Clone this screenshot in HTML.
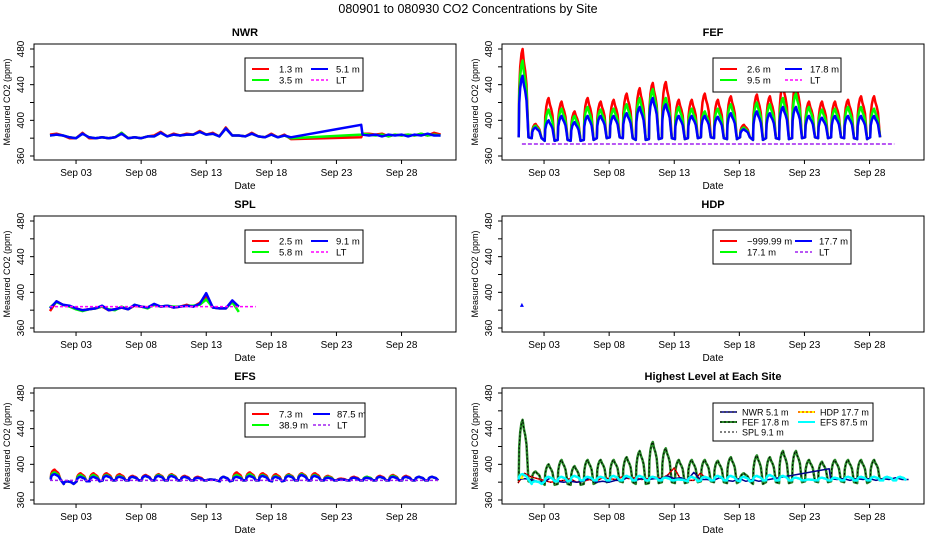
<!DOCTYPE html>
<html><head><meta charset="utf-8"><style>
body{margin:0;background:#fff;}
svg{display:block;font-family:"Liberation Sans",sans-serif;}
</style></head><body>
<svg id="chart" width="936" height="540" viewBox="0 0 936 540"></svg>
<script>
// ---- data (days since Sep 01) ----
const dateTicks=["Sep 03","Sep 08","Sep 13","Sep 18","Sep 23","Sep 28"];
const dateTickDays=[2,7,12,17,22,27];
const yTicks=[360,380,400,420,440,460,480];
const yLabels=["360","","400","","440","","480"];
const nwrTimes=[0,0.5,1,1.5,2,2.5,3,3.5,4,4.5,5,5.5,6,6.5,7,7.5,8,8.5,9,9.5,10,10.5,11,11.5,12,12.5,13,13.5,14,14.5,15,15.5,16,16.5,17,17.5,18,18.5,23.9,24,24.5,25,25.5,26,26.5,27,27.5,28,28.5,29,29.5,30];
const nwrBlue=[383,384,383,381,380,385,381,380,381,380,381,385,380,381,380,382,382,386,382,384,383,384,384,387,384,385,382,391,383,383,382,385,382,381,384,381,383,381,395,384,383,384,382,384,383,384,382,384,383,385,383,383];
const nwrRed=[384,385,383,380,380,386,380,380,381,380,381,386,380,381,380,382,383,387,382,385,383,385,384,388,384,386,382,392,383,383,382,386,382,381,385,381,384,379,381,385,385,384,385,382,384,383,384,383,385,383,386,384];
const nwrGreen=[383,384,383,381,380,385,381,380,381,380,381,386,380,381,380,382,382,386,382,384,383,384,384,387,384,385,382,391,383,383,382,385,382,381,384,381,383,380,384,385,384,383,384,382,384,383,384,383,385,383,384,383];
const splTimes=[0,0.5,1,1.5,2,2.5,3,3.5,4,4.5,5,5.5,6,6.5,7,7.5,8,8.5,9,9.5,10,10.5,11,11.5,12,12.5,13,13.5,14,14.5];
const splBlue=[382,390,386,385,382,380,381,382,385,380,381,383,381,386,384,383,387,384,385,383,384,385,384,387,399,383,382,382,391,384];
const splRed=[379,390,386,384,382,380,381,382,384,380,381,383,381,385,384,383,386,384,385,383,384,386,384,388,396,383,382,382,390,384];
const splGreen=[383,389,386,384,381,379,381,382,384,381,380,384,381,386,384,382,386,384,385,384,384,385,385,386,392,383,382,382,389,378];
const splLtTimes=[0,15.8];
const splLt=[384,384];
const hdpTimes=[0.3];
const hdpBlue=[386];
const fefRedPeak=[480,396,425,421,410,425,421,423,430,436,442,443,423,423,430,423,427,395,429,427,440,442,421,421,421,423,427,427];
const fefGreenPeak=[467,394,412,413,405,415,412,413,418,425,435,425,415,413,410,413,418,392,420,418,425,430,415,412,413,415,415,413];
const fefBluePeak=[450,392,400,405,398,405,405,405,408,415,425,418,405,405,405,404,408,390,410,408,415,415,405,403,405,405,405,405];
const fefBase=[381,380,377,378,377,378,380,381,380,378,379,380,379,380,381,380,379,381,378,380,379,380,381,380,381,380,379,381];
const fefLtTimes=[0.3,28.9];
const fefLt=[373.5,373.5];
const efsRedPeak=[394,381,390,390,390,389,387,388,389,389,387,386,383,386,391,391,390,389,389,390,390,387,384,386,386,387,388,387,386,386];
const efsGreenPeak=[391,381,388,388,388,387,386,387,388,388,386,385,383,386,388,389,388,387,388,389,388,386,383,385,386,386,387,386,386,386];
const efsBluePeak=[389,381,386,386,387,386,386,387,387,387,386,385,383,386,386,387,387,386,387,388,387,385,383,385,385,386,386,386,386,386];
const efsBase=[383,378,381,381,382,382,382,382,382,382,382,382,382,381,382,382,382,381,382,382,382,382,382,382,382,382,382,382,382,382];
const efsLtTimes=[0,29.9];
const efsLt=[382,382];

const NS="http://www.w3.org/2000/svg";
const svg=document.getElementById('chart');
function el(tag,attrs,parent,text){const e=document.createElementNS(NS,tag);for(const k in attrs)e.setAttribute(k,attrs[k]);if(text!==undefined)e.textContent=text;(parent||svg).appendChild(e);return e;}

function cycle(peaks,bases){const t=[],v=[];const sh=[[0,0],[0.04,0.55],[0.12,0.8],[0.22,0.95],[0.3,1],[0.4,0.85],[0.5,0.75],[0.6,0.6],[0.68,0.3],[0.76,0]];
 peaks.forEach((p,d)=>{const b=bases[d];sh.forEach(s=>{t.push(d+0.05+s[0]);v.push(b+s[1]*(p-b));});});
 return {t:t,v:v};}

const t0=el('text',{x:468,y:13,'text-anchor':'middle','font-size':12.5},svg,"080901  to  080930 CO2 Concentrations by Site");



function panel(name,col,row,title,series,legend,legBox,lfs){
 const x0=col?502:34,x1=col?924:456,y0=44+172*row,y1=y0+116;
 const g=el('g',{});
 
 
 const X=t=>x0+16+13.02*t;
 const Y=v=>y1-4-(v-360)*107/120;
 const tt=el('text',{x:(x0+x1)/2,y:y0-8,'text-anchor':'middle','font-size':11,'font-weight':'bold'},g,title);
 
 
 const clip=el('clipPath',{id:'c'+name},g);el('rect',{x:x0,y:y0,width:x1-x0,height:y1-y0},clip);
 const sg=el('g',{'clip-path':'url(#c'+name+')'},g);
 series.forEach(s=>{
  if(s.t.length===1){const p=el('path',{d:`M${X(s.t[0])-2},${Y(s.v[0])+2}L${X(s.t[0])+2},${Y(s.v[0])+2}L${X(s.t[0])},${Y(s.v[0])-2}Z`,fill:s.c},sg);
   return;}
  const d=s.t.map((t,i)=>(i?'L':'M')+X(t).toFixed(1)+','+Y(s.v[i]).toFixed(1)).join('');
  const p=el('path',{d:d,fill:'none',stroke:s.c,'stroke-width':s.w||2.5,'stroke-dasharray':s.da||'none','stroke-linejoin':'round'},sg);
  
  
 });
 el('rect',{x:x0,y:y0,width:x1-x0,height:y1-y0,fill:'none',stroke:'#000','stroke-width':1},g);
 el('line',{x1:x0,y1:Y(360),x2:x0,y2:Y(480),stroke:'#000'},g);
 yTicks.forEach((v,i)=>{el('line',{x1:x0-4,y1:Y(v),x2:x0,y2:Y(v),stroke:'#000'},g);
  if(yLabels[i]){const l=el('text',{x:0,y:0,'text-anchor':'middle','font-size':10,transform:`translate(${x0-10},${Y(v)}) rotate(-90)`},g,yLabels[i]);
   }});
 const yt=el('text',{x:0,y:0,'text-anchor':'middle','font-size':9,transform:`translate(${x0-24},${(y0+y1)/2}) rotate(-90)`},g,"Measured CO2 (ppm)");
 
 el('line',{x1:X(2),y1:y1,x2:X(27),y2:y1,stroke:'#000'},g);
 dateTickDays.forEach((d,i)=>{el('line',{x1:X(d),y1:y1,x2:X(d),y2:y1+4,stroke:'#000'},g);
  const l=el('text',{x:X(d),y:y1+16,'text-anchor':'middle','font-size':10},g,dateTicks[i]);
  });
 const xt=el('text',{x:(x0+x1)/2,y:y1+29,'text-anchor':'middle','font-size':10},g,"Date");
 
 const lg=el('g',{},g);
 
 
 el('rect',{x:legBox[0],y:legBox[1],width:legBox[2],height:legBox[3],fill:'#fff',stroke:'#000'},lg);
 legend.forEach(e=>{
  const lx=legBox[0]+e.x,ly=legBox[1]+e.y;
  el('line',{x1:lx,y1:ly,x2:lx+17,y2:ly,stroke:e.c,'stroke-width':e.w||2,'stroke-dasharray':e.da||'none'},lg);
  if(e.c2)el('line',{x1:lx,y1:ly,x2:lx+17,y2:ly,stroke:e.c2,'stroke-width':1,'stroke-dasharray':'2,2'},lg);
  const t=el('text',{x:lx+(e.tx||27),y:ly+3.5,'font-size':lfs||10,'xml:space':'preserve'},lg,e.l);
  
 });
}
function leg4(a,b,c,d,c2x){const x2=c2x||66;return [{x:7,y:11,c:'#f00',l:a},{x:x2,y:11,c:'#00f',l:b,tx:25},{x:7,y:22,c:'#0f0',l:c},{x:x2,y:22,c:'#f0f',l:d,da:'3,2',w:1.5,tx:25}];}

panel('nwr',0,0,'NWR',[
 {n:'nwr-1.3m-line',t:nwrTimes,v:nwrRed,c:'#f00'},
 {n:'nwr-3.5m-line',t:nwrTimes,v:nwrGreen,c:'#0f0'},
 {n:'nwr-5.1m-line',t:nwrTimes,v:nwrBlue,c:'#00f'}],
 leg4('1.3 m','5.1 m','3.5 m','LT'),[245,58,118,33],9.5);

const fr=cycle(fefRedPeak,fefBase),fg=cycle(fefGreenPeak,fefBase),fb=cycle(fefBluePeak,fefBase);
panel('fef',1,0,'FEF',[
 {n:'fef-2.6m-line',t:fr.t,v:fr.v,c:'#f00'},
 {n:'fef-9.5m-line',t:fg.t,v:fg.v,c:'#0f0'},
 {n:'fef-17.8m-line',t:fb.t,v:fb.v,c:'#00f'},
 {n:'fef-lt-line',t:fefLtTimes,v:fefLt,c:'#a020f0',w:1.5,da:'4,2'}],
 leg4('2.6 m','17.8 m','9.5 m','LT',72),[713,58,128,34],9.5);

panel('spl',0,1,'SPL',[
 {n:'spl-2.5m-line',t:splTimes,v:splRed,c:'#f00'},
 {n:'spl-5.8m-line',t:splTimes,v:splGreen,c:'#0f0'},
 {n:'spl-9.1m-line',t:splTimes,v:splBlue,c:'#00f'},
 {n:'spl-lt-line',t:splLtTimes,v:splLt,c:'#f0f',w:1.5,da:'3,2'}],
 leg4('2.5 m','9.1 m','5.8 m','LT'),[245,230,118,33],9.5);

panel('hdp',1,1,'HDP',[
 {n:'hdp-17.7m-point',t:hdpTimes,v:hdpBlue,c:'#00f'}],
 [{x:7,y:11,c:'#f00',l:'\u2212999.99 m'},{x:82,y:11,c:'#00f',l:'17.7 m',tx:24},{x:7,y:22,c:'#0f0',l:'17.1 m'},{x:82,y:22,c:'#a020f0',l:'LT',da:'3,2',w:1.5,tx:24}],[713,230,138,34],9.5);

const er=cycle(efsRedPeak,efsBase),eg=cycle(efsGreenPeak,efsBase),eb=cycle(efsBluePeak,efsBase);
panel('efs',0,2,'EFS',[
 {n:'efs-7.3m-line',t:er.t,v:er.v,c:'#f00'},
 {n:'efs-38.9m-line',t:eg.t,v:eg.v,c:'#0f0'},
 {n:'efs-87.5m-line',t:eb.t,v:eb.v,c:'#00f'},
 {n:'efs-lt-line',t:efsLtTimes,v:efsLt,c:'#a020f0',w:1.5,da:'3,2'}],
 [{x:7,y:11,c:'#f00',l:'7.3 m'},{x:68,y:11,c:'#00f',l:'87.5 m',tx:24},{x:7,y:22,c:'#0f0',l:'38.9 m'},{x:68,y:22,c:'#a020f0',l:'LT',da:'3,2',w:1.5,tx:24}],[245,403,120,34],9.5);

panel('highest',1,2,'Highest Level at Each Site',[
 {n:'highest-fef-line',t:fb.t,v:fb.v,c:'#2a8a2a',w:2.5},
 {n:'highest-fef-dash',t:fb.t,v:fb.v,c:'#000',w:1,da:'2,2'},
 {n:'highest-spl-line',t:splTimes,v:splRed,c:'#f00',w:1.5},
 {n:'highest-spl-dots',t:splTimes,v:splRed,c:'#000',w:1,da:'1,2'},
 {n:'highest-nwr-line',t:nwrTimes,v:nwrBlue,c:'#00008b',w:1.5},
 {n:'highest-efs-line',t:eb.t,v:eb.v,c:'#0ff',w:2.5},
 {n:'highest-hdp-point',t:hdpTimes,v:hdpBlue,c:'#ff0'}],
 [{x:7,y:9,c:'#00008b',l:'NWR  5.1 m',w:1.5,c2:'#000',tx:22},{x:85,y:9,c:'#ff0',l:'HDP   17.7 m',c2:'#f00',tx:22},
  {x:7,y:19,c:'#2a8a2a',l:'FEF  17.8 m',c2:'#000',tx:22},{x:85,y:19,c:'#0ff',l:'EFS   87.5 m',tx:22},
  {x:7,y:29,c:'#fff',l:'SPL  9.1 m',c2:'#000',tx:22}],[713,403,160,38],9);
</script>
</body></html>
